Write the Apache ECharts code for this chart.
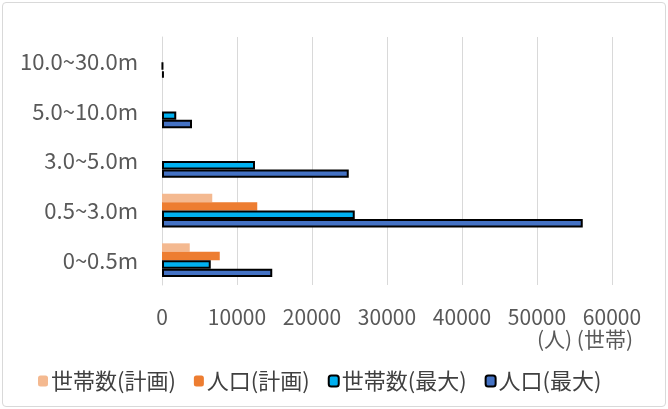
<!DOCTYPE html>
<html lang="ja">
<head>
    <meta charset="UTF-8">
    <title>浸水深別 世帯数・人口</title>
    <script src="https://cdn.jsdelivr.net/npm/echarts@6/dist/echarts.min.js"></script>
    <style>
        body {
            margin: 0;
            background-color: #fff;
        }
        #chart {
            position: absolute;
            left: 2px;
            top: 2px;
            width: 662px;
            height: 403px;
            border: 1px solid #d9d9d9;
            border-radius: 4px;
        }
    </style>
</head>
<body>
    <div id="chart"></div>
    <script>
        // 浸水深の区分（下から上）
        const categories = ['0~0.5m', '0.5~3.0m', '3.0~5.0m', '5.0~10.0m', '10.0~30.0m'];
        // 各系列の値
        const householdsPlan = [3700, 6700, 0, 0, 0];
        const populationPlan = [7700, 12700, 0, 0, 0];
        const householdsMax = [6500, 25700, 12400, 1900, 120];
        const populationMax = [14700, 56100, 24900, 4000, 250];
        const xTicks = [0, 10000, 20000, 30000, 40000, 50000, 60000];

        const fontFamily = '"Noto Sans CJK JP", "Noto Sans", sans-serif';
        const textColor = '#595959';

        let chart = echarts.init(document.getElementById('chart'));

        const option = {
            animation: false,
            textStyle: { fontFamily: fontFamily },
            grid: {
                left: 159,
                right: 53,
                top: 34,
                bottom: 121
            },
            legend: {
                data: ['世帯数(計画)', '人口(計画)', '世帯数(最大)', '人口(最大)'],
                left: 30,
                top: 362,
                itemWidth: 10,
                itemHeight: 11,
                itemGap: 18,
                textStyle: { fontSize: 22, color: '#404040', padding: [0, 0, 0, -2] }
            },
            graphic: [{
                type: 'text',
                right: 32,
                top: 326,
                style: {
                    text: '(人) (世帯)',
                    fontSize: 21,
                    fill: textColor,
                    fontFamily: fontFamily
                }
            }],
            xAxis: {
                type: 'value',
                min: xTicks[0],
                max: xTicks[xTicks.length - 1],
                interval: 10000,
                axisLine: { show: false },
                axisTick: { show: false },
                axisLabel: {
                    fontSize: 21,
                    color: textColor,
                    margin: 22,
                    formatter: v => String(v)
                },
                splitLine: { lineStyle: { color: '#d9d9d9', width: 1 } }
            },
            yAxis: {
                type: 'category',
                data: categories,
                axisLine: { show: true, lineStyle: { color: '#d9d9d9' } },
                axisTick: { show: false },
                axisLabel: { fontSize: 22, color: textColor, margin: 24 }
            },
            series: [
                {
                    name: '世帯数(計画)',
                    type: 'bar',
                    data: householdsPlan,
                    barGap: '0%',
                    barCategoryGap: '32%',
                    itemStyle: { color: '#F4B990' }
                },
                {
                    name: '人口(計画)',
                    type: 'bar',
                    data: populationPlan,
                    itemStyle: { color: '#ED7D31' }
                },
                {
                    name: '世帯数(最大)',
                    type: 'bar',
                    data: householdsMax,
                    itemStyle: { color: '#00B0F0', borderColor: '#000', borderWidth: 2 }
                },
                {
                    name: '人口(最大)',
                    type: 'bar',
                    data: populationMax,
                    itemStyle: { color: '#4472C4', borderColor: '#000', borderWidth: 2 }
                }
            ]
        };
        chart.setOption(option);
    </script>
</body>
</html>
